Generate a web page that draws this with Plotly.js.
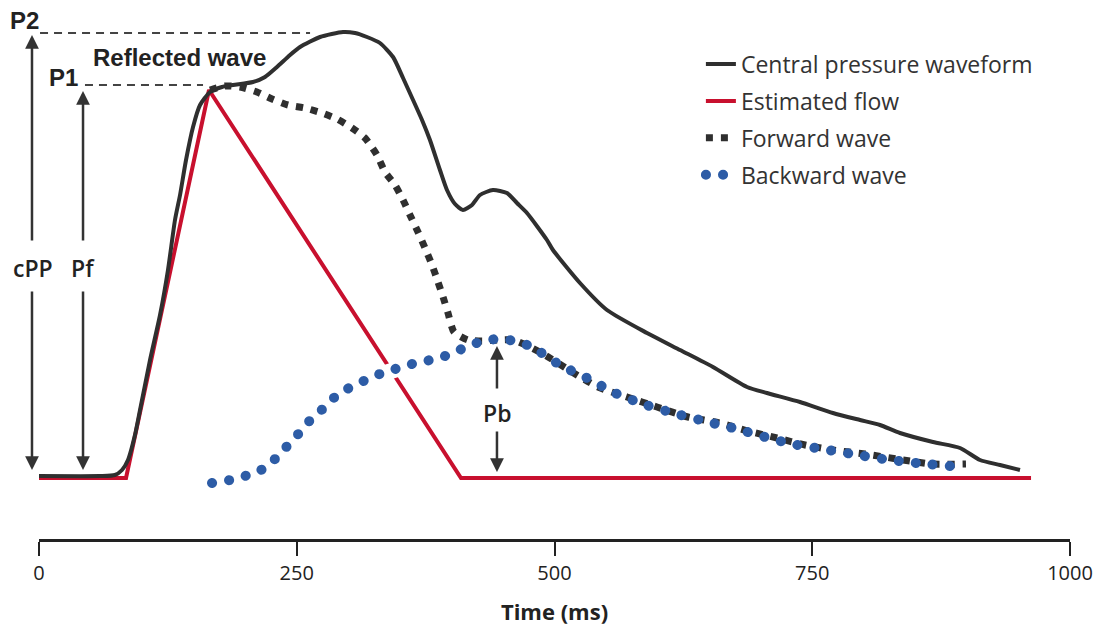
<!DOCTYPE html>
<html>
<head>
<meta charset="utf-8">
<script src="https://cdn.plot.ly/plotly-3.0.1.min.js"></script>
<style>
  html, body { margin: 0; padding: 0; background: #fff; }
  #chart { width: 1101px; height: 633px; }
</style>
</head>
<body>
<div id="chart"></div>
<script>
// ---- Data (time in ms, pressure in arbitrary units above diastolic baseline) ----
const pressureTime = [0, 59.2, 73.7, 80.5, 86.3, 93.1, 98.0, 107.7, 117.4, 125.1, 131.9, 136.8, 142.6, 149.4, 156.2, 165.9, 177.5, 188.2, 207.6, 219.2, 230.8, 243.5, 253.2, 272.6, 294.9, 306.5, 318.1, 330.7, 343.4, 353.1, 362.8, 371.5, 379.2, 388.9, 395.7, 403.5, 411.2, 420.0, 427.7, 440.3, 453.9, 463.6, 473.3, 492.7, 498.5, 524.7, 550.9, 589.7, 621.7, 653.7, 686.7, 706.1, 738.1, 770.1, 796.3, 815.7, 835.1, 867.1, 893.3, 912.7, 932.1, 951.5];
const pressureValue = [0.2, 0.2, 0.3, 0.8, 1.8, 4.3, 6.8, 11.8, 16.3, 20.8, 25.8, 28.3, 31.8, 35.1, 37.3, 38.6, 39.1, 39.3, 39.6, 40.1, 41.1, 42.3, 43.1, 44.1, 44.6, 44.5, 44.1, 43.5, 42.1, 40.0, 37.8, 35.8, 33.8, 30.8, 28.8, 27.4, 26.8, 27.3, 28.3, 28.8, 28.5, 27.5, 26.5, 23.8, 22.8, 19.5, 16.8, 14.5, 12.8, 11.1, 9.1, 8.5, 7.6, 6.5, 5.8, 5.3, 4.5, 3.6, 3.0, 1.8, 1.3, 0.8];

const flowTime = [0, 84.4, 164.9, 409.3, 962.2];
const flowValue = [0, 0, 38.8, 0, 0];

const forwardTime = [165.9, 180.4, 195.0, 211.4, 226.0, 241.5, 258.0, 274.5, 289.0, 303.6, 316.2, 327.8, 335.6, 345.3, 353.1, 359.8, 367.6, 374.4, 381.2, 387.0, 391.9, 396.7, 402.5, 416.1, 430.6, 445.2, 459.7, 476.2, 490.8, 517.0, 542.2, 570.3, 599.4, 629.5, 660.5, 687.7, 715.8, 743.0, 770.1, 801.2, 832.2, 866.1, 899.1];
const forwardValue = [38.8, 39.2, 39.1, 38.6, 37.9, 37.3, 37.0, 36.5, 35.9, 35.0, 34.0, 32.3, 30.6, 29.3, 27.8, 26.3, 24.6, 23.0, 21.3, 19.6, 18.1, 16.5, 14.6, 13.8, 13.7, 13.8, 13.8, 13.1, 12.3, 10.6, 9.1, 8.1, 7.1, 6.1, 5.5, 4.7, 4.0, 3.3, 2.8, 2.4, 1.9, 1.4, 1.4];

const backwardTime = [167.8, 185.3, 202.7, 219.2, 230.8, 242.5, 254.1, 264.8, 277.4, 290.0, 304.6, 321.0, 335.6, 352.1, 368.6, 385.1, 401.6, 416.1, 430.6, 445.2, 461.7, 478.2, 505.3, 531.5, 558.7, 585.8, 618.8, 648.9, 677.0, 704.2, 730.4, 759.5, 788.6, 818.6, 850.6, 883.6];
const backwardValue = [-0.5, -0.2, 0.3, 1.0, 2.1, 3.4, 4.7, 6.0, 7.1, 8.4, 9.2, 10.0, 10.6, 11.1, 11.6, 11.9, 12.5, 13.2, 13.7, 13.9, 13.7, 13.1, 11.3, 10.0, 8.5, 7.4, 6.4, 5.6, 4.9, 4.1, 3.4, 2.9, 2.4, 1.9, 1.5, 1.2];

const xTicks = [0, 250, 500, 750, 1000];
const seriesNames = ['Central pressure waveform', 'Estimated flow', 'Forward wave', 'Backward wave'];

// key pressure levels
const P1 = 39.3, P2 = 44.5;

const DARK = '#2f2f2f';
const RED = '#c8102e';
const BLUE = '#2d5ca6';

const traces = [
  { x: flowTime, y: flowValue, name: seriesNames[1], mode: 'lines', legendgroup: 'b', legendrank: 2,
    line: { color: RED, width: 4 }, cliponaxis: false },
  { x: backwardTime, y: backwardValue, mode: 'lines', showlegend: false, hoverinfo: 'skip', legendgroup: 'd', legendrank: 4,
    line: { color: '#ffffff', width: 16 }, cliponaxis: false },
  { x: pressureTime, y: pressureValue, name: seriesNames[0], mode: 'lines', legendgroup: 'a', legendrank: 1,
    line: { color: DARK, width: 4, shape: 'spline', smoothing: 0.6 }, cliponaxis: false },
  { x: forwardTime, y: forwardValue, name: seriesNames[2], mode: 'lines', legendgroup: 'c', legendrank: 3,
    line: { color: DARK, width: 7, dash: '7px,8px', shape: 'spline', smoothing: 0.6 }, cliponaxis: false },
  { x: backwardTime, y: backwardValue, name: seriesNames[3], mode: 'lines', legendgroup: 'd', legendrank: 4, uid: 'bw',
    line: { color: BLUE, width: 10, dash: '0.1px,17px', shape: 'spline', smoothing: 0.6 }, cliponaxis: false }
];

const labelFontA = { family: 'Liberation Sans, Arial, sans-serif', size: 24, color: '#222', weight: 'bold' };
const labelFontB = { family: 'Open Sans, sans-serif', size: 23, color: '#222', weight: 600 };

function arrow(xv, xref, headY, tailY) {
  const a = { x: xv, y: headY, xref: xref, yref: 'y', text: '', showarrow: true,
    arrowhead: 2, arrowsize: 1.1, arrowwidth: 2.5, arrowcolor: '#333',
    ayref: 'y', ay: tailY, standoff: 0, startstandoff: 0 };
  if (xref === 'paper') { a.axref = 'pixel'; a.ax = 0; } else { a.axref = 'x'; a.ax = xv; }
  return a;
}

const cppX = -0.0068; // paper
const pfX = 42.7, pbX = 444.2;

const annotations = [
  arrow(cppX, 'paper', 44.3, 23.6), arrow(cppX, 'paper', 0.8, 18.8),
  arrow(pfX, 'x', P1 - 0.6, 23.6), arrow(pfX, 'x', 0.8, 18.8),
  arrow(pbX, 'x', 13.2, 8.8), arrow(pbX, 'x', 0.6, 4.8),
  { x: -0.0136, xref: 'paper', y: 45.8, yref: 'y', text: 'P2', showarrow: false, font: labelFontA, xanchor: 'center', yanchor: 'middle' },
  { x: 24.2, xref: 'x', y: 40.1, yref: 'y', text: 'P1', showarrow: false, font: labelFontA, xanchor: 'center', yanchor: 'middle' },
  { x: 135.8, xref: 'x', y: 42.1, yref: 'y', text: 'Reflected wave', showarrow: false, font: labelFontA, xanchor: 'center', yanchor: 'middle' },
  { x: cppX + 0.001, xref: 'paper', y: 21.0, yref: 'y', text: 'cPP', showarrow: false, font: labelFontB, xanchor: 'center', yanchor: 'middle' },
  { x: pfX, xref: 'x', y: 21.0, yref: 'y', text: 'Pf', showarrow: false, font: labelFontB, xanchor: 'center', yanchor: 'middle' },
  { x: pbX, xref: 'x', y: 6.5, yref: 'y', text: 'Pb', showarrow: false, font: labelFontB, xanchor: 'center', yanchor: 'middle' }
];

const shapes = [
  { type: 'line', xref: 'x', yref: 'y', x0: 1, x1: 262.9, y0: P2, y1: P2, line: { color: '#444', width: 2, dash: '8px,6px' } },
  { type: 'line', xref: 'x', yref: 'y', x0: 44.6, x1: 159.1, y0: P1, y1: P1, line: { color: '#444', width: 2, dash: '8px,6px' } }
];

const layout = {
  width: 1101, height: 633,
  margin: { l: 39, r: 31, t: 0, b: 94 },
  paper_bgcolor: '#fff', plot_bgcolor: '#fff',
  showlegend: true,
  legend: {
    x: 0.642, xanchor: 'left', y: 0.921, yanchor: 'top',
    font: { family: 'Open Sans, sans-serif', size: 23, color: '#333' },
    bgcolor: 'rgba(0,0,0,0)', tracegroupgap: 4, traceorder: 'grouped'
  },
  xaxis: {
    range: [0, 1000], tickvals: xTicks, ticktext: xTicks.map(String),
    ticks: 'outside', ticklen: 14, tickwidth: 2, tickcolor: '#222',
    showline: true, linewidth: 3, linecolor: '#222', mirror: false,
    showgrid: false, zeroline: false, fixedrange: true,
    tickfont: { family: 'Open Sans, sans-serif', size: 20, color: '#222' },
    title: { text: 'Time (ms)', font: { family: 'Open Sans, sans-serif', size: 22, color: '#222', weight: 'bold' }, standoff: 20 }
  },
  yaxis: { range: [-6.1, 47.8], visible: false, fixedrange: true },
  annotations: annotations,
  shapes: shapes
};

Plotly.newPlot('chart', traces, layout, { displayModeBar: false, staticPlot: true }).then(function (gd) {
  // round dots for the backward wave (trace and legend sample)
  document.querySelectorAll('.scatterlayer .tracebw .js-line').forEach(function (p) {
    p.style.strokeLinecap = 'round';
  });
  document.querySelectorAll('.legend .traces').forEach(function (g) {
    const t = g.querySelector('.legendtext');
    if (t && t.textContent === seriesNames[3]) {
      g.querySelectorAll('.js-line').forEach(function (p) { p.style.strokeLinecap = 'round'; });
    }
  });
});
</script>
</body>
</html>
